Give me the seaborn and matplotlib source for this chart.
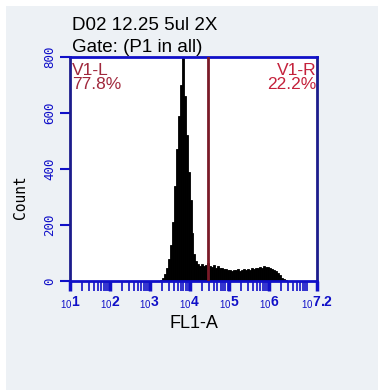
import numpy as np
import pandas as pd
import matplotlib
matplotlib.use("Agg")
import matplotlib.pyplot as plt
from matplotlib.patches import Rectangle
import seaborn as sns

# ---- data ----
title_lines = ["D02 12.25 5ul 2X", "Gate: (P1 in all)"]
gate_log = 4.47
gate_names = ["V1-L", "V1-R"]
gate_pcts = ["77.8%", "22.2%"]
x_ticks = [1, 2, 3, 4, 5, 6, 7.2]
x_tick_labels = ["1", "2", "3", "4", "5", "6", "7.2"]
y_ticks = [0, 200, 400, 600, 800]
bin_start = 3.25
bin_width = 0.05
counts = [5, 12, 25, 45, 80, 130, 210, 340, 470, 590, 700, 800, 660, 520, 390, 290,
          170, 95, 70, 60, 55, 62, 52, 58, 65, 55, 50, 57, 48, 52, 45, 47,
          42, 44, 38, 41, 36, 40, 38, 42, 37, 40, 44, 39, 43, 41, 46, 42,
          48, 45, 50, 47, 53, 49, 51, 46, 44, 40, 35, 28, 20, 12, 6, 2]

edges = [bin_start + bin_width * i for i in range(len(counts) + 1)]
centers = [(edges[i] + edges[i + 1]) / 2 for i in range(len(counts))]
df = pd.DataFrame({"logFL1": centers, "count": counts})

sns.set_style("white")
plt.rcParams["font.family"] = ["Liberation Sans", "DejaVu Sans"]
plt.rcParams["mathtext.fontset"] = "custom"
plt.rcParams["mathtext.rm"] = "Liberation Sans"
plt.rcParams["mathtext.it"] = "Liberation Sans"
plt.rcParams["mathtext.bf"] = "Liberation Sans:bold"

fig = plt.figure(figsize=(3.78, 3.90), dpi=100)
fig.patch.set_facecolor("white")
fig.add_artist(Rectangle((6 / 378, 0), 1, 1 - 6 / 390, transform=fig.transFigure,
                         facecolor="#edf1f5", edgecolor="none", zorder=-10))

ax = fig.add_axes([70 / 378, 1 - 281 / 390, 247 / 378, 224 / 390])
ax.set_facecolor("white")
sns.histplot(data=df, x="logFL1", weights="count", bins=edges, color="black",
             alpha=1, element="bars", edgecolor="black", linewidth=0.6, ax=ax)

ax.set_xlim(1, 7.2)
ax.set_ylim(0, 800)

ax.axvline(gate_log, color="#7a1a28", lw=2, zorder=5)

blue = "#1010c8"
navy = "#1c1c8c"
for s in ["left", "right"]:
    ax.spines[s].set_color(navy)
    ax.spines[s].set_linewidth(2)
for s in ["top", "bottom"]:
    ax.spines[s].set_color(blue)
    ax.spines[s].set_linewidth(2)

# y axis
ax.set_yticks(y_ticks)
ax.set_yticklabels([str(v) for v in y_ticks], rotation=90, va="center",
                   color=blue, fontsize=9, family="DejaVu Sans Mono")
ax.tick_params(axis="y", left=True, direction="out", length=7, width=1.5,
               color=blue, pad=3)
ax.set_ylabel("Count", fontsize=10.5, family="DejaVu Sans Mono", color="black")
ax.yaxis.set_label_coords(-0.17, 0.375)

# x axis
ax.set_xticks(x_ticks)
ax.set_xticklabels([r"$_{10}$" + lab for lab in x_tick_labels], color=blue,
                   fontsize=10, fontweight="bold")
ax.tick_params(axis="x", bottom=True, direction="out", length=7, width=2.5,
               color=blue, pad=3)
minor = [d + np.log10(k) for d in range(1, 8) for k in range(2, 10)
         if d + np.log10(k) < 7.2]
ax.set_xticks(minor, minor=True)
ax.tick_params(axis="x", which="minor", bottom=True, direction="out", length=7,
               width=1.2, color=blue)
ax.set_xlabel("FL1-A", fontsize=13, color="black", labelpad=3)

# gate labels
ax.text(0.008, 0.975, gate_names[0] + "\n" + gate_pcts[0], transform=ax.transAxes,
        ha="left", va="top", color="#a0283c", fontsize=12.5, linespacing=0.95)
ax.text(0.997, 0.975, gate_names[1] + "\n" + gate_pcts[1], transform=ax.transAxes,
        ha="right", va="top", color="#c4213b", fontsize=12.5, linespacing=0.95)

# title
fig.text(72 / 378, 1 - 25 / 390, title_lines[0], ha="left", va="center",
         fontsize=13.5, color="black")
fig.text(72 / 378, 1 - 48 / 390, title_lines[1], ha="left", va="center",
         fontsize=13.5, color="black")

fig.savefig("out.png", dpi=100, facecolor=fig.get_facecolor())
